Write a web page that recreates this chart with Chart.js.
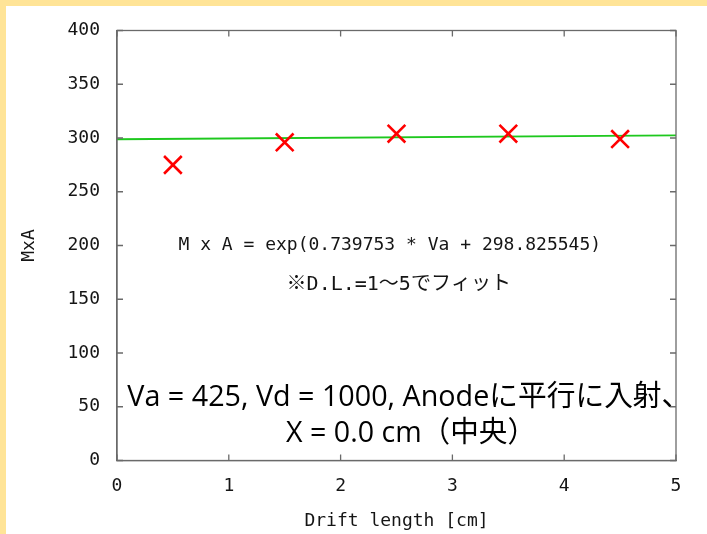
<!DOCTYPE html>
<html>
<head>
<meta charset="utf-8">
<title>MxA vs Drift length</title>
<script src="https://cdn.jsdelivr.net/npm/chart.js@4"></script>
<style>
  html, body { margin: 0; padding: 0; background: #ffffff; }
  #wrap { width: 707px; height: 534px; position: relative; }
  canvas { display: block; }
</style>
</head>
<body>
<div id="wrap"><canvas id="chart" width="707" height="534"></canvas></div>
<script>
// Measured gain (M x A) at each drift length
const driftLength = [0.5, 1.5, 2.5, 3.5, 4.5];
const mxaValues = [275, 296, 304, 304, 299];

// Fitted line end points (D.L. = 0 and 5 cm)
const fitX = [0, 5];
const fitY = [298.825545, 302.524310];

// Axis ranges and tick steps
const xRange = [0, 5];
const yRange = [0, 400];
const xStep = 1;
const yStep = 50;

// Texts drawn inside the plot
const axisTitleX = 'Drift length [cm]';
const axisTitleY = 'MxA';
const formulaText = 'M x A = exp(0.739753 * Va + 298.825545)';
const fitNoteText = '※D.L.=1〜5でフィット';
const conditionLines = ['Va = 425, Vd = 1000, Anodeに平行に入射、', 'X = 0.0 cm（中央）'];

const MONO = '"DejaVu Sans Mono", "Noto Sans CJK JP", monospace';
const SANS = '"Open Sans", "Noto Sans CJK JP", sans-serif';
const FRAME = '#6a6a6a';
const INK = '#151515';

// Page background with the slide's yellow edge
const backdrop = {
  id: 'backdrop',
  beforeDraw(chart) {
    const ctx = chart.ctx;
    ctx.save();
    ctx.fillStyle = '#ffffff';
    ctx.fillRect(0, 0, chart.width, chart.height);
    ctx.fillStyle = '#ffe497';
    ctx.fillRect(0, 0, chart.width, 6);
    ctx.fillRect(0, 0, 6, chart.height);
    ctx.restore();
  }
};

// Closed frame with inward ticks on all four sides
const frame = {
  id: 'frame',
  afterDatasetsDraw(chart) {
    const {ctx, chartArea: a, scales: {x, y}} = chart;
    const len = 6;
    ctx.save();
    ctx.strokeStyle = FRAME;
    ctx.lineWidth = 1.3;
    ctx.strokeRect(a.left, a.top, a.right - a.left, a.bottom - a.top);
    ctx.beginPath();
    x.ticks.forEach(t => {
      const px = x.getPixelForValue(t.value);
      ctx.moveTo(px, a.bottom); ctx.lineTo(px, a.bottom - len);
      ctx.moveTo(px, a.top); ctx.lineTo(px, a.top + len);
    });
    y.ticks.forEach(t => {
      const py = y.getPixelForValue(t.value);
      ctx.moveTo(a.left, py); ctx.lineTo(a.left + len, py);
      ctx.moveTo(a.right, py); ctx.lineTo(a.right - len, py);
    });
    ctx.stroke();
    ctx.restore();
  }
};

// Fit formula and run conditions written over the plot
const notes = {
  id: 'notes',
  afterDraw(chart) {
    const {ctx, scales: {x, y}} = chart;
    ctx.save();
    ctx.textAlign = 'center';
    ctx.textBaseline = 'middle';
    ctx.fillStyle = INK;
    ctx.font = '18px ' + MONO;
    ctx.fillText(formulaText, x.getPixelForValue(2.44), y.getPixelForValue(200));
    ctx.font = '20px ' + MONO;
    ctx.fillText(fitNoteText, x.getPixelForValue(2.52), y.getPixelForValue(163));
    ctx.fillStyle = '#000000';
    ctx.font = '29px ' + SANS;
    ctx.fillText(conditionLines[0], x.getPixelForValue(2.61), y.getPixelForValue(58), 563);
    ctx.fillText(conditionLines[1], x.getPixelForValue(2.63), y.getPixelForValue(25), 250);
    ctx.restore();
  }
};

new Chart(document.getElementById('chart'), {
  data: {
    datasets: [
      {
        type: 'scatter',
        label: 'MxA',
        data: driftLength.map((d, i) => ({x: d, y: mxaValues[i]})),
        pointStyle: 'crossRot',
        pointRadius: 12.5,
        pointHoverRadius: 12.5,
        borderColor: '#ff0000',
        backgroundColor: '#ff0000',
        borderWidth: 2.6
      },
      {
        type: 'line',
        label: 'fit',
        data: fitX.map((d, i) => ({x: d, y: fitY[i]})),
        borderColor: '#1ec81e',
        borderWidth: 1.8,
        pointRadius: 0,
        fill: false
      }
    ]
  },
  options: {
    responsive: false,
    animation: false,
    devicePixelRatio: 1,
    layout: { padding: { top: 30.5, right: 31, left: 0, bottom: 0 } },
    plugins: { legend: { display: false }, tooltip: { enabled: false } },
    scales: {
      x: {
        type: 'linear',
        min: xRange[0],
        max: xRange[1],
        afterFit(s) { s.height = 73.5; },
        ticks: { stepSize: xStep, color: INK, font: { family: MONO, size: 18 }, padding: 15 },
        grid: { drawOnChartArea: false, drawTicks: false },
        border: { display: true, color: FRAME, width: 1.3 },
        title: { display: true, text: axisTitleX, color: INK,
                 font: { family: MONO, size: 18, lineHeight: 1.2 }, padding: { top: 0, bottom: 2 } }
      },
      y: {
        type: 'linear',
        min: yRange[0],
        max: yRange[1],
        afterFit(s) { s.width = 117; },
        ticks: { stepSize: yStep, color: INK, font: { family: MONO, size: 18 }, padding: 17 },
        grid: { drawOnChartArea: false, drawTicks: false },
        border: { display: true, color: FRAME, width: 1.3 },
        title: { display: true, text: axisTitleY, color: INK,
                 font: { family: MONO, size: 18, lineHeight: 1.2 }, padding: { top: 19, bottom: 0 } }
      }
    }
  },
  plugins: [backdrop, frame, notes]
});
</script>
</body>
</html>
